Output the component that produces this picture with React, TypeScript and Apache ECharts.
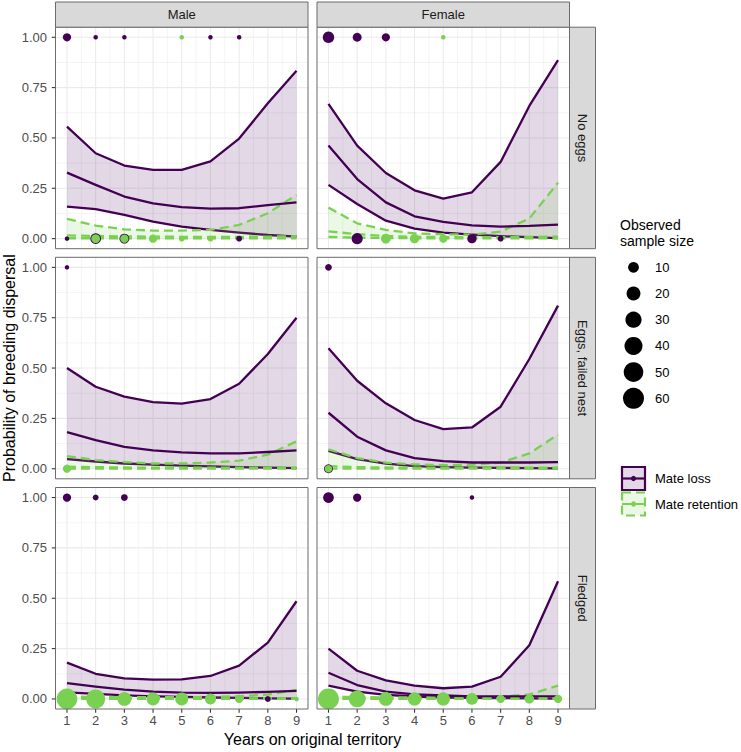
import React, { useEffect, useRef } from 'react';
import * as echarts from 'echarts';

// ---------- categories / ticks ----------
const YEARS = [1, 2, 3, 4, 5, 6, 7, 8, 9];
const SEX_LABELS = ['Male', 'Female'];
const STAGE_LABELS = ['No eggs', 'Eggs, failed nest', 'Fledged'];
const GROUP_LABELS = ['Mate loss', 'Mate retention'];
const Y_TICKS = [0, 0.25, 0.5, 0.75, 1];
const Y_TICK_LABELS = ['0.00', '0.25', '0.50', '0.75', '1.00'];
const Y_MINOR = [0.125, 0.375, 0.625, 0.875];
const X_MINOR = [1.5, 2.5, 3.5, 4.5, 5.5, 6.5, 7.5, 8.5];
const SIZE_BREAKS = [10, 20, 30, 40, 50, 60];
const Y_TITLE = 'Probability of breeding dispersal';
const X_TITLE = 'Years on original territory';
const SIZE_TITLE = 'Observed\nsample size';

// ---------- Male · No eggs ----------
const mNeLossHi = [0.556, 0.424, 0.363, 0.341, 0.341, 0.384, 0.497, 0.672, 0.834];
const mNeLossMid = [0.328, 0.267, 0.209, 0.175, 0.156, 0.149, 0.151, 0.166, 0.18];
const mNeLossLo = [0.159, 0.147, 0.118, 0.084, 0.06, 0.043, 0.03, 0.018, 0.01];
const mNeRetHi = [0.098, 0.065, 0.046, 0.04, 0.04, 0.043, 0.068, 0.126, 0.217];
const mNeRetMid = [0.016, 0.013, 0.011, 0.01, 0.009, 0.009, 0.009, 0.01, 0.012];
const mNeRetLo = [0.002, 0.002, 0.002, 0.001, 0.001, 0.001, 0.001, 0.001, 0.001];
// observed points: [year, dispersed (0/1), sample size]
const mNeLossObs = [[1, 1, 5], [2, 1, 1], [3, 1, 1], [6, 1, 1], [7, 1, 1], [1, 0, 1], [2, 0, 10], [3, 0, 8], [7, 0, 2]];
const mNeRetObs = [[5, 1, 1], [2, 0, 6], [3, 0, 5], [4, 0, 5], [5, 0, 2], [6, 0, 2]];

// ---------- Female · No eggs ----------
const fNeLossHi = [0.669, 0.462, 0.326, 0.24, 0.199, 0.23, 0.381, 0.659, 0.887];
const fNeLossMid = [0.462, 0.296, 0.18, 0.111, 0.083, 0.066, 0.06, 0.063, 0.07];
const fNeLossLo = [0.267, 0.172, 0.089, 0.05, 0.03, 0.02, 0.012, 0.007, 0.003];
const fNeRetHi = [0.154, 0.076, 0.043, 0.026, 0.022, 0.02, 0.035, 0.1, 0.278];
const fNeRetMid = [0.036, 0.022, 0.013, 0.009, 0.008, 0.007, 0.007, 0.008, 0.01];
const fNeRetLo = [0.008, 0.005, 0.003, 0.002, 0.001, 0.001, 0.001, 0.001, 0.001];
const fNeLossObs = [[1, 1, 12], [2, 1, 6], [3, 1, 5], [2, 0, 11], [6, 0, 7], [7, 0, 2]];
const fNeRetObs = [[5, 1, 1], [3, 0, 8], [4, 0, 7], [5, 0, 5]];

// ---------- Male · Eggs, failed nest ----------
const mEfLossHi = [0.5, 0.407, 0.358, 0.331, 0.323, 0.346, 0.422, 0.57, 0.75];
const mEfLossMid = [0.182, 0.142, 0.109, 0.091, 0.081, 0.076, 0.076, 0.083, 0.091];
const mEfLossLo = [0.048, 0.036, 0.026, 0.02, 0.015, 0.012, 0.008, 0.005, 0.003];
const mEfRetHi = [0.063, 0.043, 0.033, 0.026, 0.026, 0.031, 0.04, 0.07, 0.136];
const mEfRetMid = [0.01, 0.008, 0.006, 0.005, 0.005, 0.005, 0.005, 0.005, 0.006];
const mEfRetLo = [0.001, 0.001, 0.001, 0.001, 0.001, 0.001, 0.001, 0.001, 0.001];
const mEfLossObs = [[1, 1, 1]];
const mEfRetObs = [[1, 0, 5]];

// ---------- Female · Eggs, failed nest ----------
const fEfLossHi = [0.598, 0.437, 0.325, 0.242, 0.197, 0.205, 0.308, 0.545, 0.81];
const fEfLossMid = [0.278, 0.159, 0.091, 0.053, 0.038, 0.031, 0.031, 0.031, 0.033];
const fEfLossLo = [0.089, 0.048, 0.025, 0.013, 0.008, 0.005, 0.004, 0.003, 0.002];
const fEfRetHi = [0.096, 0.053, 0.03, 0.022, 0.018, 0.02, 0.03, 0.076, 0.17];
const fEfRetMid = [0.013, 0.008, 0.006, 0.005, 0.005, 0.005, 0.005, 0.005, 0.006];
const fEfRetLo = [0.001, 0.001, 0.001, 0.001, 0.001, 0.001, 0.001, 0.001, 0.001];
const fEfLossObs = [[1, 1, 3], [1, 0, 6]];
const fEfRetObs = [[1, 0, 4]];

// ---------- Male · Fledged ----------
const mFlLossHi = [0.18, 0.125, 0.102, 0.096, 0.097, 0.114, 0.165, 0.28, 0.485];
const mFlLossMid = [0.079, 0.061, 0.046, 0.036, 0.031, 0.03, 0.031, 0.035, 0.04];
const mFlLossLo = [0.033, 0.025, 0.018, 0.013, 0.01, 0.007, 0.005, 0.003, 0.002];
const mFlRetHi = [0.012, 0.01, 0.009, 0.009, 0.009, 0.01, 0.013, 0.022, 0.045];
const mFlRetMid = [0.005, 0.004, 0.004, 0.003, 0.003, 0.003, 0.003, 0.003, 0.003];
const mFlRetLo = [0.001, 0.001, 0.001, 0.001, 0.001, 0.001, 0.001, 0.001, 0.001];
const mFlLossObs = [[1, 1, 5], [2, 1, 2], [3, 1, 3], [8, 0, 2]];
const mFlRetObs = [[1, 0, 58], [2, 0, 46], [3, 0, 20], [4, 0, 17], [5, 0, 17], [6, 0, 11], [7, 0, 5], [9, 0, 1]];

// ---------- Female · Fledged ----------
const fFlLossHi = [0.25, 0.14, 0.092, 0.066, 0.053, 0.061, 0.11, 0.267, 0.584];
const fFlLossMid = [0.13, 0.069, 0.036, 0.023, 0.017, 0.013, 0.013, 0.013, 0.013];
const fFlLossLo = [0.066, 0.036, 0.02, 0.012, 0.007, 0.005, 0.004, 0.003, 0.002];
const fFlRetHi = [0.012, 0.009, 0.008, 0.007, 0.007, 0.008, 0.011, 0.022, 0.066];
const fFlRetMid = [0.004, 0.003, 0.003, 0.002, 0.002, 0.002, 0.002, 0.002, 0.003];
const fFlRetLo = [0.001, 0.001, 0.001, 0.001, 0.001, 0.001, 0.001, 0.001, 0.001];
const fFlLossObs = [[1, 1, 10], [2, 1, 5], [6, 1, 1]];
const fFlRetObs = [[1, 0, 60], [2, 0, 33], [3, 0, 20], [4, 0, 18], [5, 0, 18], [6, 0, 13], [7, 0, 5], [8, 0, 7], [9, 0, 5]];

const PANELS = [
  { row: 0, col: 0, lossHi: mNeLossHi, lossMid: mNeLossMid, lossLo: mNeLossLo, retHi: mNeRetHi, retMid: mNeRetMid, retLo: mNeRetLo, lossObs: mNeLossObs, retObs: mNeRetObs },
  { row: 0, col: 1, lossHi: fNeLossHi, lossMid: fNeLossMid, lossLo: fNeLossLo, retHi: fNeRetHi, retMid: fNeRetMid, retLo: fNeRetLo, lossObs: fNeLossObs, retObs: fNeRetObs },
  { row: 1, col: 0, lossHi: mEfLossHi, lossMid: mEfLossMid, lossLo: mEfLossLo, retHi: mEfRetHi, retMid: mEfRetMid, retLo: mEfRetLo, lossObs: mEfLossObs, retObs: mEfRetObs },
  { row: 1, col: 1, lossHi: fEfLossHi, lossMid: fEfLossMid, lossLo: fEfLossLo, retHi: fEfRetHi, retMid: fEfRetMid, retLo: fEfRetLo, lossObs: fEfLossObs, retObs: fEfRetObs },
  { row: 2, col: 0, lossHi: mFlLossHi, lossMid: mFlLossMid, lossLo: mFlLossLo, retHi: mFlRetHi, retMid: mFlRetMid, retLo: mFlRetLo, lossObs: mFlLossObs, retObs: mFlRetObs },
  { row: 2, col: 1, lossHi: fFlLossHi, lossMid: fFlLossMid, lossLo: fFlLossLo, retHi: fFlRetHi, retMid: fFlRetMid, retLo: fFlRetLo, lossObs: fFlLossObs, retObs: fFlRetObs },
];

// ---------- layout & style ----------
const X_MIN = 0.6, X_MAX = 9.4, Y_MIN = -0.05, Y_MAX = 1.05;
const COL_LEFT = [55.5, 317];
const ROW_TOP = [27.2, 257.3, 487.5];
const PANEL_W = 252.5;
const PANEL_H = 221.5;
const STRIP_TOP = 2;
const STRIP_W = 26;
const LOSS = '#440154';
const RET = '#7AD151';
const LOSS_FILL = 'rgba(68,1,84,0.15)';
const RET_FILL = 'rgba(122,209,81,0.15)';
const BORDER = '#6b6b6b';
const FONT = '"Liberation Sans", Arial, Helvetica, sans-serif';
const DASH = [9, 5];
const LINE_W = 2.3;

const sizeOf = (n: number) => 4.5 * Math.pow(n, 0.376);

function buildOption() {
  const grid: any[] = [];
  const xAxis: any[] = [];
  const yAxis: any[] = [];
  const series: any[] = [];
  const graphic: any[] = [];

  PANELS.forEach((p, k) => {
    const left = COL_LEFT[p.col];
    const top = ROW_TOP[p.row];
    grid.push({ left, top, width: PANEL_W, height: PANEL_H, show: false, containLabel: false, outerBoundsMode: 'none' });
    xAxis.push({
      gridIndex: k, type: 'value', min: X_MIN, max: X_MAX, splitNumber: 9, minInterval: 1, maxInterval: 1,
      axisLine: { show: false }, axisTick: { show: false }, splitLine: { show: false }, minorSplitLine: { show: false },
      axisLabel: {
        show: p.row === 2, margin: 5, color: '#4D4D4D', fontSize: 13, fontFamily: FONT,
        formatter: (v: number) => (Math.abs(v - Math.round(v)) < 1e-6 ? String(Math.round(v)) : ''),
      },
    });
    yAxis.push({
      gridIndex: k, type: 'value', min: Y_MIN, max: Y_MAX, splitNumber: 4, minInterval: 0.25, maxInterval: 0.25,
      axisLine: { show: false }, axisTick: { show: false }, splitLine: { show: false }, minorSplitLine: { show: false },
      axisLabel: {
        show: p.col === 0, margin: 8.5, color: '#4D4D4D', fontSize: 13, fontFamily: FONT,
        formatter: (v: number) => {
          const i = Y_TICKS.findIndex((t) => Math.abs(t - v) < 1e-6);
          return i >= 0 ? Y_TICK_LABELS[i] : '';
        },
      },
    });

    // background grid lines + axis ticks
    const items: number[][] = [];
    YEARS.forEach((v) => items.push([0, v]));
    X_MINOR.forEach((v) => items.push([1, v]));
    Y_TICKS.forEach((v) => items.push([2, v]));
    Y_MINOR.forEach((v) => items.push([3, v]));
    if (p.col === 0) Y_TICKS.forEach((v) => items.push([4, v]));
    if (p.row === 2) YEARS.forEach((v) => items.push([5, v]));
    series.push({
      type: 'custom', xAxisIndex: k, yAxisIndex: k, data: items, clip: false, silent: true, z: 1,
      renderItem: (_params: any, api: any) => {
        const kind = api.value(0);
        const v = api.value(1);
        let a: number[], b: number[];
        let stroke = '#EBEBEB';
        let lw = 1.07;
        if (kind === 0 || kind === 1) {
          a = api.coord([v, Y_MIN]); b = api.coord([v, Y_MAX]);
          if (kind === 1) lw = 0.53;
        } else if (kind === 2 || kind === 3) {
          a = api.coord([X_MIN, v]); b = api.coord([X_MAX, v]);
          if (kind === 3) lw = 0.53;
        } else if (kind === 4) {
          b = api.coord([X_MIN, v]); a = [b[0] - 3.7, b[1]];
          stroke = '#333333';
        } else {
          a = api.coord([v, Y_MIN]); b = [a[0], a[1] + 3.7];
          stroke = '#333333';
        }
        return { type: 'line', shape: { x1: a[0], y1: a[1], x2: b[0], y2: b[1] }, style: { stroke, lineWidth: lw } };
      },
    });

    const pts = (arr: number[]) => YEARS.map((x, i) => [x, arr[i]]);
    // ribbon between lower and upper bound, drawn as one polygon via the axes' coord()
    const band = (lo: number[], hi: number[], fill: string, z: number) => ({
      type: 'custom', xAxisIndex: k, yAxisIndex: k, silent: true, z, clip: true,
      data: YEARS.map((x, i) => [x, lo[i], hi[i]]),
      encode: { x: 0, y: [1, 2] },
      renderItem: (params: any, api: any) => {
        if (params.dataIndexInside !== 0) return null;
        const n = params.dataInsideLength;
        const upper: number[][] = [];
        const lower: number[][] = [];
        for (let i = 0; i < n; i++) {
          const x = api.value(0, i);
          upper.push(api.coord([x, api.value(2, i)]));
          lower.push(api.coord([x, api.value(1, i)]));
        }
        return { type: 'polygon', shape: { points: upper.concat(lower.reverse()) }, style: { fill, stroke: 'none' } };
      },
    });
    const line = (arr: number[], color: string, dashed: boolean, z: number) => ({
      type: 'line', xAxisIndex: k, yAxisIndex: k, data: pts(arr), symbol: 'none', silent: true, z,
      lineStyle: { color, width: LINE_W, type: dashed ? DASH : 'solid', cap: 'butt', join: 'round' },
    });

    series.push(band(p.lossLo, p.lossHi, LOSS_FILL, 2));
    series.push(line(p.lossHi, LOSS, false, 3), line(p.lossLo, LOSS, false, 3));
    series.push(band(p.retLo, p.retHi, RET_FILL, 4));
    series.push(line(p.retHi, RET, true, 5), line(p.retLo, RET, true, 5));
    series.push(line(p.lossMid, LOSS, false, 6), line(p.retMid, RET, true, 7));
    series.push({
      type: 'scatter', xAxisIndex: k, yAxisIndex: k, data: p.lossObs, silent: true, z: 8,
      symbol: 'circle', symbolSize: (v: number[]) => sizeOf(v[2]), itemStyle: { color: LOSS, opacity: 1 },
    });
    series.push({
      type: 'scatter', xAxisIndex: k, yAxisIndex: k, data: p.retObs, silent: true, z: 9,
      symbol: 'circle', symbolSize: (v: number[]) => sizeOf(v[2]), itemStyle: { color: RET, opacity: 1 },
    });

    // panel border
    graphic.push({ type: 'rect', silent: true, z: 100, shape: { x: left, y: top, width: PANEL_W, height: PANEL_H }, style: { fill: 'none', stroke: BORDER, lineWidth: 1 } });
  });

  // top strips
  SEX_LABELS.forEach((lab, c) => {
    const x = COL_LEFT[c];
    const h = ROW_TOP[0] - STRIP_TOP;
    graphic.push({ type: 'rect', silent: true, z: 100, shape: { x, y: STRIP_TOP, width: PANEL_W, height: h }, style: { fill: '#D9D9D9', stroke: BORDER, lineWidth: 1 } });
    graphic.push({ type: 'text', silent: true, z: 101, x: x + PANEL_W / 2, y: STRIP_TOP + h / 2, style: { text: lab, fill: '#1A1A1A', fontSize: 13, fontFamily: FONT, align: 'center', verticalAlign: 'middle', textAlign: 'center', textVerticalAlign: 'middle' } });
  });
  // right strips
  STAGE_LABELS.forEach((lab, r) => {
    const x = COL_LEFT[1] + PANEL_W;
    const y = ROW_TOP[r];
    graphic.push({ type: 'rect', silent: true, z: 100, shape: { x, y, width: STRIP_W, height: PANEL_H }, style: { fill: '#D9D9D9', stroke: BORDER, lineWidth: 1 } });
    graphic.push({ type: 'text', silent: true, z: 101, x: x + STRIP_W / 2, y: y + PANEL_H / 2, rotation: -Math.PI / 2, style: { text: lab, fill: '#1A1A1A', fontSize: 13, fontFamily: FONT, align: 'center', verticalAlign: 'middle', textAlign: 'center', textVerticalAlign: 'middle' } });
  });

  // axis titles
  const plotMidX = (COL_LEFT[0] + COL_LEFT[1] + PANEL_W) / 2;
  const plotMidY = (ROW_TOP[0] + ROW_TOP[2] + PANEL_H) / 2;
  graphic.push({ type: 'text', silent: true, z: 101, x: plotMidX, y: 739, style: { text: X_TITLE, fill: '#000', fontSize: 16, fontFamily: FONT, align: 'center', verticalAlign: 'middle', textAlign: 'center', textVerticalAlign: 'middle' } });
  graphic.push({ type: 'text', silent: true, z: 101, x: 9.5, y: plotMidY, rotation: Math.PI / 2, style: { text: Y_TITLE, fill: '#000', fontSize: 16, fontFamily: FONT, align: 'center', verticalAlign: 'middle', textAlign: 'center', textVerticalAlign: 'middle' } });

  // size legend
  const LEG_X = 620;
  const keyCx = 633.5;
  graphic.push({ type: 'text', silent: true, z: 101, x: LEG_X, y: 217.5, style: { text: SIZE_TITLE, fill: '#000', fontSize: 14, lineHeight: 15.7, fontFamily: FONT, align: 'left', verticalAlign: 'top', textAlign: 'left', textVerticalAlign: 'top' } });
  SIZE_BREAKS.forEach((n, i) => {
    const cy = 267.3 + i * 26.2;
    graphic.push({ type: 'circle', silent: true, z: 101, shape: { cx: keyCx, cy, r: sizeOf(n) / 2 }, style: { fill: '#000' } });
    graphic.push({ type: 'text', silent: true, z: 101, x: 655, y: cy, style: { text: String(n), fill: '#000', fontSize: 13, fontFamily: FONT, align: 'left', verticalAlign: 'middle', textAlign: 'left', textVerticalAlign: 'middle' } });
  });

  // group legend
  const keys = [
    { y: 467, color: LOSS, fill: LOSS_FILL, dash: null as any },
    { y: 492.5, color: RET, fill: RET_FILL, dash: DASH },
  ];
  keys.forEach((kk, i) => {
    const cy = kk.y + 11.5;
    graphic.push({ type: 'rect', silent: true, z: 101, shape: { x: 622, y: kk.y, width: 23, height: 23 }, style: { fill: kk.fill, stroke: kk.color, lineWidth: 2.2, lineDash: kk.dash } });
    graphic.push({ type: 'line', silent: true, z: 102, shape: { x1: 622, y1: cy, x2: 645, y2: cy }, style: { stroke: kk.color, lineWidth: 2.2, lineDash: kk.dash } });
    graphic.push({ type: 'circle', silent: true, z: 103, shape: { cx: keyCx, cy, r: 2.6 }, style: { fill: kk.color } });
    graphic.push({ type: 'text', silent: true, z: 101, x: 655, y: cy, style: { text: GROUP_LABELS[i], fill: '#000', fontSize: 13, fontFamily: FONT, align: 'left', verticalAlign: 'middle', textAlign: 'left', textVerticalAlign: 'middle' } });
  });

  return { animation: false, backgroundColor: '#fff', grid, xAxis, yAxis, series, graphic };
}

export default function App() {
  const ref = useRef<HTMLDivElement>(null);
  useEffect(() => {
    document.body.style.margin = '0';
    const chart = echarts.init(ref.current as HTMLDivElement, undefined, { renderer: 'svg', width: 741, height: 752 });
    chart.setOption(buildOption() as any);
    return () => chart.dispose();
  }, []);
  return <div ref={ref} style={{ width: 741, height: 752, position: 'absolute', left: 0, top: 0 }} />;
}
